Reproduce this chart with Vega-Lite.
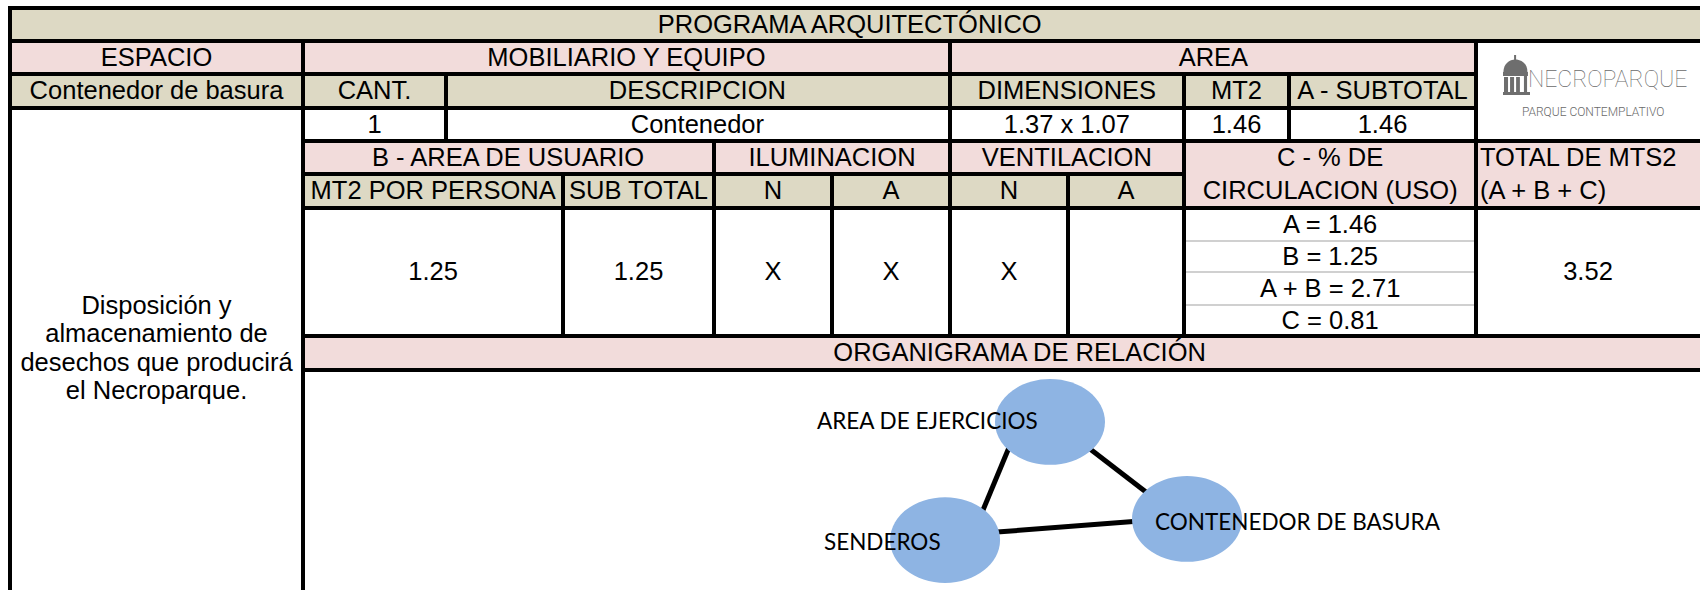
{
  "$schema": "https://vega.github.io/schema/vega-lite/v6.json",
  "width": 1700,
  "height": 590,
  "autosize": {"type": "none"},
  "padding": 0,
  "background": "#ffffff",
  "config": {"view": {"stroke": null}},
  "datasets": {
    "celdas": [
      {"c0": 0, "c1": 11, "r0": 0, "r1": 1, "tipo": "tan"},
      {"c0": 0, "c1": 10, "r0": 1, "r1": 2, "tipo": "rosa"},
      {"c0": 0, "c1": 10, "r0": 2, "r1": 3, "tipo": "tan"},
      {"c0": 1, "c1": 11, "r0": 4, "r1": 5, "tipo": "rosa"},
      {"c0": 8, "c1": 11, "r0": 5, "r1": 6, "tipo": "rosa"},
      {"c0": 1, "c1": 8, "r0": 5, "r1": 6, "tipo": "tan"},
      {"c0": 1, "c1": 11, "r0": 10, "r1": 11, "tipo": "rosa"}
    ],
    "horizontales": [
      {"r": 0, "c0": 0, "c1": 11},
      {"r": 1, "c0": 0, "c1": 11},
      {"r": 2, "c0": 0, "c1": 10},
      {"r": 3, "c0": 0, "c1": 10},
      {"r": 4, "c0": 1, "c1": 11},
      {"r": 5, "c0": 1, "c1": 8},
      {"r": 6, "c0": 1, "c1": 11},
      {"r": 10, "c0": 1, "c1": 11},
      {"r": 11, "c0": 1, "c1": 11}
    ],
    "finas": [
      {"r": 7, "c0": 8, "c1": 10},
      {"r": 8, "c0": 8, "c1": 10},
      {"r": 9, "c0": 8, "c1": 10}
    ],
    "verticales": [
      {"c": 0, "r0": 0, "r1": 12},
      {"c": 1, "r0": 1, "r1": 12},
      {"c": 2, "r0": 2, "r1": 4},
      {"c": 3, "r0": 5, "r1": 10},
      {"c": 4, "r0": 4, "r1": 10},
      {"c": 5, "r0": 5, "r1": 10},
      {"c": 6, "r0": 1, "r1": 10},
      {"c": 7, "r0": 5, "r1": 10},
      {"c": 8, "r0": 2, "r1": 10},
      {"c": 9, "r0": 2, "r1": 4},
      {"c": 10, "r0": 1, "r1": 10}
    ],
    "textos": [
      {"texto": "PROGRAMA ARQUITECTÓNICO", "col": 5.15, "fila": 0.5},
      {"texto": "ESPACIO", "col": 0.5, "fila": 1.5},
      {"texto": "MOBILIARIO Y EQUIPO", "col": 3.42, "fila": 1.5},
      {"texto": "AREA", "col": 8.28, "fila": 1.5},
      {"texto": "Contenedor de basura", "col": 0.5, "fila": 2.5},
      {"texto": "CANT.", "col": 1.5, "fila": 2.5},
      {"texto": "DESCRIPCION", "col": 3.89, "fila": 2.5},
      {"texto": "DIMENSIONES", "col": 6.99, "fila": 2.5},
      {"texto": "MT2", "col": 8.5, "fila": 2.5},
      {"texto": "A - SUBTOTAL", "col": 9.5, "fila": 2.5},
      {"texto": "1", "col": 1.5, "fila": 3.5},
      {"texto": "Contenedor", "col": 3.89, "fila": 3.5},
      {"texto": "1.37 x 1.07", "col": 6.99, "fila": 3.5},
      {"texto": "1.46", "col": 8.5, "fila": 3.5},
      {"texto": "1.46", "col": 9.5, "fila": 3.5},
      {"texto": "B - AREA DE USUARIO", "col": 2.53, "fila": 4.5},
      {"texto": "ILUMINACION", "col": 5.0, "fila": 4.5},
      {"texto": "VENTILACION", "col": 6.99, "fila": 4.5},
      {"texto": "C - % DE", "col": 9.22, "fila": 4.5},
      {"texto": "CIRCULACION (USO)", "col": 9.22, "fila": 5.5},
      {"texto": "MT2 POR PERSONA", "col": 1.91, "fila": 5.5},
      {"texto": "SUB TOTAL", "col": 3.5, "fila": 5.5},
      {"texto": "N", "col": 4.5, "fila": 5.5},
      {"texto": "A", "col": 5.5, "fila": 5.5},
      {"texto": "N", "col": 6.5, "fila": 5.5},
      {"texto": "A", "col": 7.5, "fila": 5.5},
      {"texto": "1.25", "col": 1.91, "fila": 8},
      {"texto": "1.25", "col": 3.5, "fila": 8},
      {"texto": "X", "col": 4.5, "fila": 8},
      {"texto": "X", "col": 5.5, "fila": 8},
      {"texto": "X", "col": 6.5, "fila": 8},
      {"texto": "3.52", "col": 10.5, "fila": 8},
      {"texto": "A = 1.46", "col": 9.22, "fila": 6.5},
      {"texto": "B = 1.25", "col": 9.22, "fila": 7.5},
      {"texto": "A + B = 2.71", "col": 9.22, "fila": 8.5},
      {"texto": "C = 0.81", "col": 9.22, "fila": 9.5},
      {"texto": "ORGANIGRAMA DE RELACIÓN", "col": 6.59, "fila": 10.5},
      {"texto": "Disposición y\nalmacenamiento de\ndesechos que producirá\nel Necroparque.", "col": 0.5, "fila": 9.03}
    ],
    "textosIzq": [
      {"texto": "TOTAL DE MTS2", "col": 10, "fila": 4.5},
      {"texto": "(A + B + C)", "col": 10, "fila": 5.5}
    ],
    "logoPiezas": [
      {"x0": 17.0, "x1": 17.9, "y0": 14, "y1": 19},
      {"x0": 12.05, "x1": 23.2, "y0": 31, "y1": 35},
      {"x0": 12.5, "x1": 14.3, "y0": 36, "y1": 53},
      {"x0": 15.2, "x1": 17.0, "y0": 36, "y1": 53},
      {"x0": 17.9, "x1": 19.6, "y0": 36, "y1": 53},
      {"x0": 21.4, "x1": 22.8, "y0": 31, "y1": 53},
      {"x0": 12.05, "x1": 24.1, "y0": 51, "y1": 54}
    ],
    "logoCupula": [{"x": 17.6, "y": 25}],
    "logoNombre": [{"texto": "NECROPARQUE", "x": 23.2, "y": 39}],
    "logoLema": [{"texto": "PARQUE CONTEMPLATIVO", "x": 20.5, "y": 71}],
    "nodos": [
      {"nombre": "AREA DE EJERCICIOS", "x": 53.47, "y": 23.6},
      {"nombre": "CONTENEDOR DE BASURA", "x": 63.28, "y": 67.7},
      {"nombre": "SENDEROS", "x": 45.96, "y": 77.3}
    ],
    "etiquetas": [
      {"nombre": "AREA DE EJERCICIOS", "x": 36.79, "y": 23.6},
      {"nombre": "CONTENEDOR DE BASURA", "x": 60.99, "y": 69.5},
      {"nombre": "SENDEROS", "x": 37.29, "y": 78.6}
    ],
    "relaciones": [
      {"x1": 50.82, "y1": 30.9, "x2": 48.32, "y2": 69.1},
      {"x1": 55.69, "y1": 32.7, "x2": 60.99, "y2": 58.6},
      {"x1": 49.18, "y1": 73.9, "x2": 59.91, "y2": 68.6}
    ]
  },
  "resolve": {"scale": {"x": "independent", "y": "independent"}},
  "layer": [
    {
      "layer": [
        {
          "data": {"name": "celdas"},
          "mark": {"type": "rect"},
          "encoding": {
            "x": {"field": "c0", "type": "quantitative", "axis": null, "scale": {"domain": [0,1,2,3,4,5,6,7,8,9,10,11], "range": [10,303,446,563,714,832,950,1068,1184,1289,1476,1700], "nice": false, "zero": false}},
            "x2": {"field": "c1"},
            "y": {"field": "r0", "type": "quantitative", "axis": null, "scale": {"domain": [0,1,2,3,4,5,6,7,8,9,10,11,12], "range": [8,41,74,108,141,174,208,241,272,305,336,370,590], "nice": false, "zero": false}},
            "y2": {"field": "r1"},
            "color": {"field": "tipo", "type": "nominal", "legend": null, "scale": {"domain": ["tan", "rosa"], "range": ["#DDD9C4", "#F2DCDB"]}}
          }
        },
        {
          "data": {"name": "finas"},
          "mark": {"type": "rule", "color": "#D0D0D0", "strokeWidth": 2},
          "encoding": {
            "x": {"field": "c0", "type": "quantitative", "axis": null, "scale": {"domain": [0,1,2,3,4,5,6,7,8,9,10,11], "range": [10,303,446,563,714,832,950,1068,1184,1289,1476,1700], "nice": false, "zero": false}},
            "x2": {"field": "c1"},
            "y": {"field": "r", "type": "quantitative", "axis": null, "scale": {"domain": [0,1,2,3,4,5,6,7,8,9,10,11,12], "range": [8,41,74,108,141,174,208,241,272,305,336,370,590], "nice": false, "zero": false}}
          }
        },
        {
          "data": {"name": "horizontales"},
          "mark": {"type": "rule", "color": "#000000", "strokeWidth": 4, "strokeCap": "square"},
          "encoding": {
            "x": {"field": "c0", "type": "quantitative", "axis": null, "scale": {"domain": [0,1,2,3,4,5,6,7,8,9,10,11], "range": [10,303,446,563,714,832,950,1068,1184,1289,1476,1700], "nice": false, "zero": false}},
            "x2": {"field": "c1"},
            "y": {"field": "r", "type": "quantitative", "axis": null, "scale": {"domain": [0,1,2,3,4,5,6,7,8,9,10,11,12], "range": [8,41,74,108,141,174,208,241,272,305,336,370,590], "nice": false, "zero": false}}
          }
        },
        {
          "data": {"name": "verticales"},
          "mark": {"type": "rule", "color": "#000000", "strokeWidth": 4, "strokeCap": "square"},
          "encoding": {
            "x": {"field": "c", "type": "quantitative", "axis": null, "scale": {"domain": [0,1,2,3,4,5,6,7,8,9,10,11], "range": [10,303,446,563,714,832,950,1068,1184,1289,1476,1700], "nice": false, "zero": false}},
            "y": {"field": "r0", "type": "quantitative", "axis": null, "scale": {"domain": [0,1,2,3,4,5,6,7,8,9,10,11,12], "range": [8,41,74,108,141,174,208,241,272,305,336,370,590], "nice": false, "zero": false}},
            "y2": {"field": "r1"}
          }
        },
        {
          "data": {"name": "textos"},
          "mark": {"type": "text", "font": "Liberation Sans", "fontSize": 25.5, "color": "#000000", "align": "center", "baseline": "middle", "lineBreak": "\n", "lineHeight": 28.5},
          "encoding": {
            "x": {"field": "col", "type": "quantitative", "axis": null, "scale": {"domain": [0,1,2,3,4,5,6,7,8,9,10,11], "range": [10,303,446,563,714,832,950,1068,1184,1289,1476,1700], "nice": false, "zero": false}},
            "y": {"field": "fila", "type": "quantitative", "axis": null, "scale": {"domain": [0,1,2,3,4,5,6,7,8,9,10,11,12], "range": [8,41,74,108,141,174,208,241,272,305,336,370,590], "nice": false, "zero": false}},
            "text": {"field": "texto"}
          }
        },
        {
          "data": {"name": "textosIzq"},
          "mark": {"type": "text", "font": "Liberation Sans", "fontSize": 25.5, "color": "#000000", "align": "left", "baseline": "middle", "dx": 4},
          "encoding": {
            "x": {"field": "col", "type": "quantitative", "axis": null, "scale": {"domain": [0,1,2,3,4,5,6,7,8,9,10,11], "range": [10,303,446,563,714,832,950,1068,1184,1289,1476,1700], "nice": false, "zero": false}},
            "y": {"field": "fila", "type": "quantitative", "axis": null, "scale": {"domain": [0,1,2,3,4,5,6,7,8,9,10,11,12], "range": [8,41,74,108,141,174,208,241,272,305,336,370,590], "nice": false, "zero": false}},
            "text": {"field": "texto"}
          }
        }
      ]
    },
    {
      "layer": [
        {
          "data": {"name": "logoPiezas"},
          "mark": {"type": "rect", "color": "#6E6E6E"},
          "encoding": {
            "x": {"field": "x0", "type": "quantitative", "axis": null, "scale": {"domain": [0, 100], "range": [1476, 1700], "nice": false, "zero": false}},
            "x2": {"field": "x1"},
            "y": {"field": "y0", "type": "quantitative", "axis": null, "scale": {"domain": [0, 100], "range": [41, 141], "nice": false, "zero": false}},
            "y2": {"field": "y1"}
          }
        },
        {
          "data": {"name": "logoCupula"},
          "mark": {"type": "point", "filled": true, "shape": "M -1 0.5 C -1 -0.9 1 -0.9 1 0.5 Z", "size": 576, "color": "#6E6E6E", "opacity": 1, "strokeWidth": 0},
          "encoding": {
            "x": {"field": "x", "type": "quantitative", "axis": null, "scale": {"domain": [0, 100], "range": [1476, 1700], "nice": false, "zero": false}},
            "y": {"field": "y", "type": "quantitative", "axis": null, "scale": {"domain": [0, 100], "range": [41, 141], "nice": false, "zero": false}}
          }
        },
        {
          "data": {"name": "logoNombre"},
          "mark": {"type": "text", "font": "Roboto", "fontWeight": 100, "fontSize": 23, "color": "#6A6A6A", "align": "left", "baseline": "middle"},
          "encoding": {
            "x": {"field": "x", "type": "quantitative", "axis": null, "scale": {"domain": [0, 100], "range": [1476, 1700], "nice": false, "zero": false}},
            "y": {"field": "y", "type": "quantitative", "axis": null, "scale": {"domain": [0, 100], "range": [41, 141], "nice": false, "zero": false}},
            "text": {"field": "texto"}
          }
        },
        {
          "data": {"name": "logoLema"},
          "mark": {"type": "text", "font": "Roboto", "fontWeight": 300, "fontSize": 12, "color": "#6A6A6A", "align": "left", "baseline": "middle"},
          "encoding": {
            "x": {"field": "x", "type": "quantitative", "axis": null, "scale": {"domain": [0, 100], "range": [1476, 1700], "nice": false, "zero": false}},
            "y": {"field": "y", "type": "quantitative", "axis": null, "scale": {"domain": [0, 100], "range": [41, 141], "nice": false, "zero": false}},
            "text": {"field": "texto"}
          }
        }
      ]
    },
    {
      "layer": [
        {
          "data": {"name": "relaciones"},
          "mark": {"type": "rule", "color": "#000000", "strokeWidth": 5},
          "encoding": {
            "x": {"field": "x1", "type": "quantitative", "axis": null, "scale": {"domain": [0, 100], "range": [303, 1700], "nice": false, "zero": false}},
            "x2": {"field": "x2"},
            "y": {"field": "y1", "type": "quantitative", "axis": null, "scale": {"domain": [0, 100], "range": [370, 590], "nice": false, "zero": false}},
            "y2": {"field": "y2"}
          }
        },
        {
          "data": {"name": "nodos"},
          "mark": {"type": "point", "filled": true, "shape": "M -1 0 A 1 0.78 0 1 1 1 0 A 1 0.78 0 1 1 -1 0 Z", "size": 12100, "color": "#8EB4E3", "opacity": 1, "strokeWidth": 0},
          "encoding": {
            "x": {"field": "x", "type": "quantitative", "axis": null, "scale": {"domain": [0, 100], "range": [303, 1700], "nice": false, "zero": false}},
            "y": {"field": "y", "type": "quantitative", "axis": null, "scale": {"domain": [0, 100], "range": [370, 590], "nice": false, "zero": false}}
          }
        },
        {
          "data": {"name": "etiquetas"},
          "mark": {"type": "text", "font": "Lato", "fontSize": 22.5, "color": "#000000", "align": "left", "baseline": "middle"},
          "encoding": {
            "x": {"field": "x", "type": "quantitative", "axis": null, "scale": {"domain": [0, 100], "range": [303, 1700], "nice": false, "zero": false}},
            "y": {"field": "y", "type": "quantitative", "axis": null, "scale": {"domain": [0, 100], "range": [370, 590], "nice": false, "zero": false}},
            "text": {"field": "nombre"}
          }
        }
      ]
    }
  ]
}
